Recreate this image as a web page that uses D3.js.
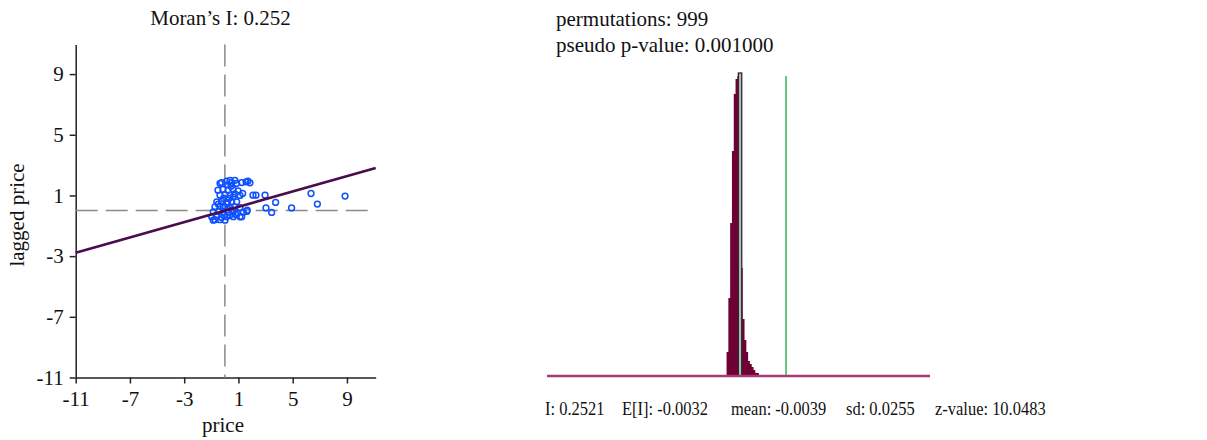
<!DOCTYPE html>
<html lang="en">
<head>
    <meta charset="UTF-8">
    <title>Moran's I</title>
    <script src="https://d3js.org/d3.v7.min.js"></script>
    <style>
        body { margin: 0; background: #fff; }
        svg text { font-family: "Liberation Serif", "Times New Roman", serif; font-size: 21px; fill: #111; }
        .axis path, .axis line { stroke: #222; stroke-width: 1.5px; }
        .stats text { font-size: 18.5px; }
    </style>
</head>
<body>
<svg id="chart" width="1207" height="440"></svg>
<script>
    // scatter: standardized price vs spatially lagged price
    var priceVals = [-0.24, 0.13, 0.38, 0.5, 0.74, 0.87, 1.24, 1.56, 1.7, 1.85, -0.36,
        -0.51, -0.14, 0.23, 0.6, 0.97,
        -0.36, 0.01, 0.38, 0.74, 1.11, 1.31, 2.07, 2.29, 2.96,
        -0.6, -0.24, 0.13, 0.5, 0.87, -0.49,
        -0.73, -0.36, 0.01, 0.38, 0.74, 1.11, -0.12,
        -0.86, -0.49, -0.12, 0.25, 0.62, 1.36, 1.61, 0.92, 1.65,
        -0.97, -0.6, -0.24, 0.13, 0.62, 1.11, 1.24,
        -0.86, -0.36, 0.01, -0.73,
        3.03, 3.45, 3.74, 4.92, 6.35, 6.82, 8.86,
        0.3, 0.6, -0.1, 0.45, 0.2, -0.05, 0.35, 0.8, 0.5, 0.2];
    var laggedVals = [1.85, 1.95, 2.0, 1.85, 2.0, 1.8, 1.85, 1.9, 1.95, 1.83, 1.8,
        1.35, 1.4, 1.35, 1.4, 1.3,
        1.02, 1.05, 1.02, 1.1, 1.0, 1.13, 1.02, 1.02, 1.02,
        0.58, 0.6, 0.55, 0.6, 0.58, 0.43,
        0.25, 0.28, 0.25, 0.22, 0.25, 0.2, 0.3,
        -0.08, -0.05, -0.1, -0.08, -0.08, -0.1, -0.05, -0.18, 0.03,
        -0.41, -0.41, -0.45, -0.41, -0.4, -0.41, -0.41,
        -0.63, -0.6, -0.63, -0.6,
        0.18, -0.12, 0.54, 0.18, 1.13, 0.43, 0.96,
        0.8, 0.9, 0.8, 1.6, 1.7, -0.3, -0.3, -0.25, 0.05, 0.45];
    var moransI = 0.252;
    var scatterTicks = [-11, -7, -3, 1, 5, 9];

    // permutation reference distribution
    var binStart = -0.0789;
    var binWidth = 0.01;
    var binCounts = [8, 26, 51, 75, 94, 99, 100, 101, 36, 19, 12, 8, 5, 4, 3, 2, 1, 1];
    var observedI = 0.2521;
    var expectedI = -0.0032;
    var meanI = -0.0039;
    var sdI = 0.0255;
    var zValue = 10.0483;
    var permutations = 999;
    var pseudoP = 0.001;

    var svg = d3.select("#chart");

    // ---------- left: Moran scatter plot ----------
    var x = d3.scaleLinear().domain([-11, 11.12]).range([75.7, 375.7]);
    var y = d3.scaleLinear().domain([-11, 10.95]).range([377.5, 44.5]);

    svg.append("g")
        .attr("class", "axis")
        .attr("transform", "translate(0," + y(-11) + ")")
        .call(d3.axisBottom(x).tickValues(scatterTicks).tickFormat(String)
            .tickSize(6).tickPadding(8).tickSizeOuter(0));

    svg.append("g")
        .attr("class", "axis")
        .attr("transform", "translate(" + x(-11) + ",0)")
        .call(d3.axisLeft(y).tickValues(scatterTicks).tickFormat(String)
            .tickSize(6).tickPadding(6).tickSizeOuter(0));

    svg.selectAll(".axis text").attr("font-size", null).attr("font-family", null).attr("fill", "#111");

    // zero reference lines
    svg.append("line")
        .attr("x1", x(0)).attr("x2", x(0))
        .attr("y1", y(10.95)).attr("y2", y(-11))
        .attr("stroke", "#8a8a8a").attr("stroke-width", 1.5)
        .attr("stroke-dasharray", "22,8");
    svg.append("line")
        .attr("x1", x(-11)).attr("x2", x(11.12))
        .attr("y1", y(0)).attr("y2", y(0))
        .attr("stroke", "#8a8a8a").attr("stroke-width", 1.5)
        .attr("stroke-dasharray", "22,8");

    var pts = priceVals.map(function (d, i) { return [d, laggedVals[i]]; });
    svg.append("g")
        .selectAll("circle")
        .data(pts)
        .enter().append("circle")
        .attr("cx", function (d) { return x(d[0]); })
        .attr("cy", function (d) { return y(d[1]); })
        .attr("r", 2.9)
        .attr("fill", "none")
        .attr("stroke", "#0f50ff")
        .attr("stroke-width", 1.5);

    // regression line, slope = Moran's I
    svg.append("line")
        .attr("x1", x(-11)).attr("y1", y(-11 * moransI))
        .attr("x2", x(11.12)).attr("y2", y(11.12 * moransI))
        .attr("stroke", "#4a0c4e").attr("stroke-width", 2.6);

    svg.append("text")
        .attr("x", 220.5).attr("y", 25)
        .attr("text-anchor", "middle")
        .text("Moran\u2019s I: " + moransI.toFixed(3));
    svg.append("text")
        .attr("x", 223).attr("y", 432)
        .attr("text-anchor", "middle")
        .text("price");
    svg.append("text")
        .attr("transform", "translate(24,215) rotate(-90)")
        .attr("text-anchor", "middle")
        .text("lagged price");

    // ---------- right: permutation histogram ----------
    var xh = d3.scaleLinear().domain([-1.078, 1.053]).range([547, 930]);
    var yh = d3.scaleLinear().domain([0, d3.max(binCounts)]).range([376, 73]);

    var bins = binCounts.map(function (c, i) {
        var x0 = binStart + i * binWidth;
        return { x0: x0, x1: x0 + binWidth, n: c, hl: meanI >= x0 && meanI < x0 + binWidth };
    });

    // draw the bins as one stepped shape so there are no seams between bars
    var steps = bins.map(function (d) { return [d.x0, d.n]; });
    steps.push([bins[bins.length - 1].x1, 0]);
    var histArea = d3.area()
        .x(function (d) { return xh(d[0]); })
        .y0(yh(0))
        .y1(function (d) { return yh(d[1]); })
        .curve(d3.curveStepAfter);
    svg.append("path")
        .datum(steps)
        .attr("d", histArea)
        .attr("fill", "#6e0034");

    svg.append("g")
        .selectAll("rect")
        .data(bins.filter(function (d) { return d.hl; }))
        .enter().append("rect")
        .attr("x", function (d) { return xh(d.x0) - 0.8; })
        .attr("width", function (d) { return xh(d.x1) - xh(d.x0) + 1.6; })
        .attr("y", function (d) { return yh(d.n); })
        .attr("height", function (d) { return yh(0) - yh(d.n); })
        .attr("fill", "#b5b5b5")
        .attr("stroke", "#2a2a2a")
        .attr("stroke-width", 1.3);

    // observed I
    svg.append("line")
        .attr("x1", xh(observedI)).attr("x2", xh(observedI))
        .attr("y1", yh(100)).attr("y2", yh(0))
        .attr("stroke", "#62c57c").attr("stroke-width", 2);

    // baseline
    svg.append("line")
        .attr("x1", xh(-1.078)).attr("x2", xh(1.053))
        .attr("y1", yh(0)).attr("y2", yh(0))
        .attr("stroke", "#a83a78").attr("stroke-width", 2.5);

    svg.append("text").attr("x", 556).attr("y", 26).text("permutations: " + permutations);
    svg.append("text").attr("x", 556).attr("y", 52).text("pseudo p-value: " + pseudoP.toFixed(6));

    var stats = [
        { x: 545, t: "I: " + observedI.toFixed(4) },
        { x: 622, t: "E[I]: " + expectedI.toFixed(4) },
        { x: 731, t: "mean: " + meanI.toFixed(4) },
        { x: 846, t: "sd: " + sdI.toFixed(4) },
        { x: 935, t: "z-value: " + zValue.toFixed(4) }
    ];
    svg.append("g")
        .attr("class", "stats")
        .selectAll("text")
        .data(stats)
        .enter().append("text")
        .attr("x", function (d) { return d.x; })
        .attr("y", 415)
        .text(function (d) { return d.t; })
        .each(function () {
            // the stats line is set a little narrower than the rest
            this.setAttribute("textLength", this.getComputedTextLength() * 0.89);
            this.setAttribute("lengthAdjust", "spacingAndGlyphs");
        });
</script>
</body>
</html>
